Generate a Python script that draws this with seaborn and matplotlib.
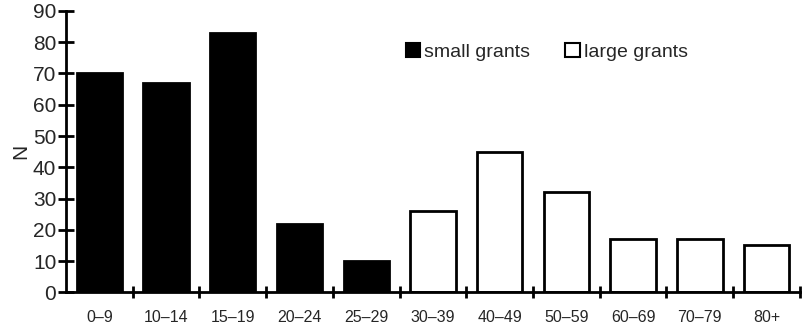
import pandas as pd
import matplotlib.pyplot as plt
import seaborn as sns

ages = ['0–9', '10–14', '15–19', '20–24', '25–29', '30–39',
        '40–49', '50–59', '60–69', '70–79', '80+']
counts = [70, 67, 83, 22, 10, 26, 45, 32, 17, 17, 15]
groups = ['small grants'] * 5 + ['large grants'] * 6

df = pd.DataFrame({'age': ages, 'N': counts, 'grant': groups})

sns.set_style('white')
plt.rcParams['font.family'] = ['Liberation Sans', 'DejaVu Sans']

fig = plt.figure(figsize=(8.08, 3.29), dpi=100)
ax = fig.add_axes([0.0817, 0.1116, 0.9083, 0.855])

sns.barplot(data=df, x='age', y='N', hue='grant', order=ages,
            hue_order=['small grants', 'large grants'],
            palette={'small grants': 'black', 'large grants': 'white'},
            dodge=False, width=0.68, edgecolor='black', linewidth=2,
            ax=ax, legend=False)

ax.set_xlim(-0.5, 10.5)
ax.set_ylim(0, 90)
ax.set_yticks(range(0, 91, 10))
ax.set_xticks(range(len(ages)))
ax.set_xticklabels(ages, fontsize=11.5)
ax.set_xticks([i + 0.5 for i in range(len(ages))], minor=True)
ax.tick_params(axis='x', which='both', bottom=True)
ax.tick_params(axis='x', which='major', length=0, pad=13)
ax.tick_params(axis='x', which='minor', direction='inout', length=9, width=2,
               color='black')
ax.tick_params(axis='y', left=True, direction='inout', length=12, width=2,
               color='black', labelsize=15, pad=1)
ax.set_xlabel('')
ax.set_ylabel('N', fontsize=15, labelpad=2)

for side in ['top', 'right']:
    ax.spines[side].set_visible(False)
for side in ['left', 'bottom']:
    ax.spines[side].set_linewidth(2)
    ax.spines[side].set_color('black')

handles = [plt.Rectangle((0, 0), 1, 1, facecolor='black', edgecolor='black', linewidth=1.5),
           plt.Rectangle((0, 0), 1, 1, facecolor='white', edgecolor='black', linewidth=1.5)]
ax.legend(handles, ['small grants', 'large grants'], ncol=2, frameon=False,
          loc='center', bbox_to_anchor=(0.655, 0.855), fontsize=14,
          handlelength=0.75, handleheight=0.75, handletextpad=0.2,
          columnspacing=1.8)

fig.savefig('out.png', dpi=100)
